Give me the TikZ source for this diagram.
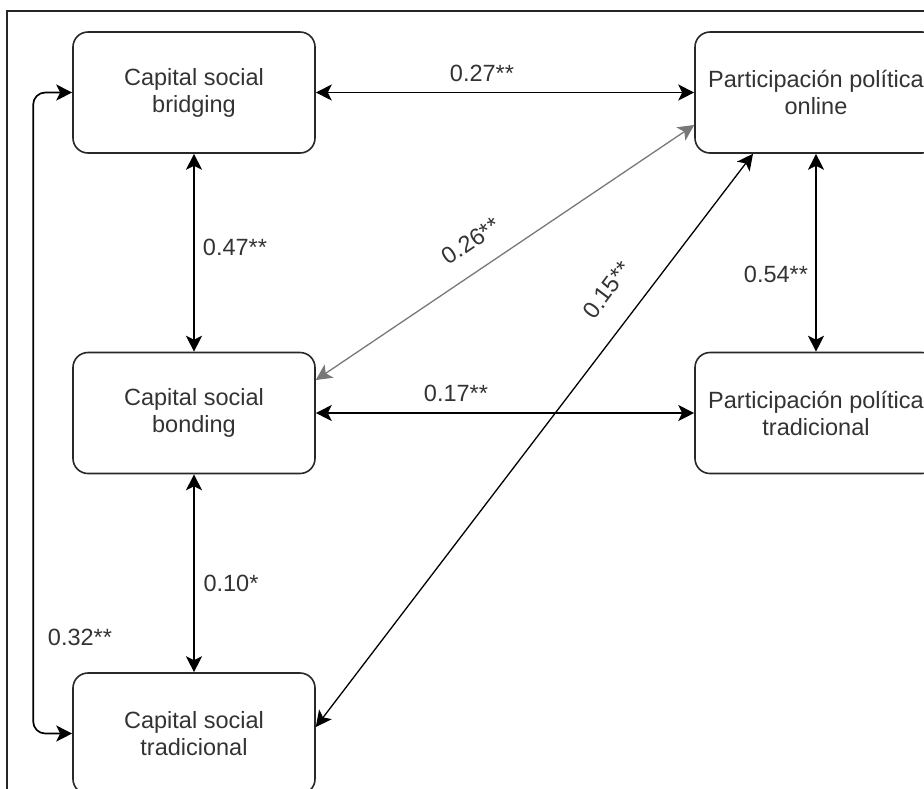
\documentclass[tikz,border=0pt]{standalone}
\usepackage{fontspec}
\setmainfont{Liberation Sans}
\usetikzlibrary{arrows.meta,calc}
\definecolor{txt}{RGB}{51,51,51}
\definecolor{edge}{RGB}{40,40,40}
\definecolor{thinedge}{RGB}{120,120,120}
\tikzset{
  varbox/.style={draw=edge, line width=1.6pt, rounded corners=15pt,
    minimum width=242pt, minimum height=121pt, align=center,
    text=txt, font=\fontsize{23.5}{27}\selectfont},
  link/.style={draw=black, line width=1.7pt,
    {Stealth[length=16pt,width=16pt,inset=4pt]}-{Stealth[length=16pt,width=16pt,inset=4pt]}},
  coef/.style={text=txt, font=\fontsize{23.5}{27}\selectfont, inner sep=0pt}
}
\begin{document}
\begin{tikzpicture}[x=1pt, y=-1pt]
  \useasboundingbox (0,0) rectangle (924,788);
  \clip (0,0) rectangle (924,788);
  % outer frame
  \draw[line width=1.4pt, black!85] (7,11) rectangle (1000,900);

  % variables
  \node[varbox] (bridging) at (194,92.5) {Capital social\\bridging};
  \node[varbox] (online)   at (816,92.5) {Participación política\\online};
  \node[varbox] (bonding)  at (194,413)  {Capital social\\bonding};
  \node[varbox] (tradpol)  at (816,413)  {Participación política\\tradicional};
  \node[varbox] (tradsoc)  at (194,733.5) {Capital social\\tradicional};

  % correlations
  \draw[link] (bridging.east) -- (online.west);
  \draw[link] (bridging.south) -- (bonding.north);
  \draw[link] (online.south) -- (tradpol.north);
  \draw[link] (bonding.east) -- (tradpol.west);
  \draw[link] (bonding.south) -- (tradsoc.north);
  \draw[link, draw=thinedge, line width=1.3pt]
    ([yshift=33pt]bonding.east) -- ([yshift=-32.5pt]online.west);
  \draw[link, line width=1.3pt]
    ([yshift=6.5pt]tradsoc.east) -- ([xshift=-63pt]online.south);
  \draw[link, rounded corners=12pt]
    (tradsoc.west) -- ++(-39,0) |- (bridging.west);

  % coefficients
  \node[coef] (c27) at (482,73)  {0.27**};
  \node[coef] (c47) at (235,247) {0.47**};
  \node[coef] (c54) at (776,274) {0.54**};
  \node[coef] (c17) at (456,393) {0.17**};
  \node[coef] (c10) at (231,583) {0.10*};
  \node[coef] (c32) at (80,637)  {0.32**};
  \node[coef, rotate=34] (c26) at (471,241) {0.26**};
  \node[coef, rotate=53] (c15) at (607,290) {0.15**};
\end{tikzpicture}
\end{document}
